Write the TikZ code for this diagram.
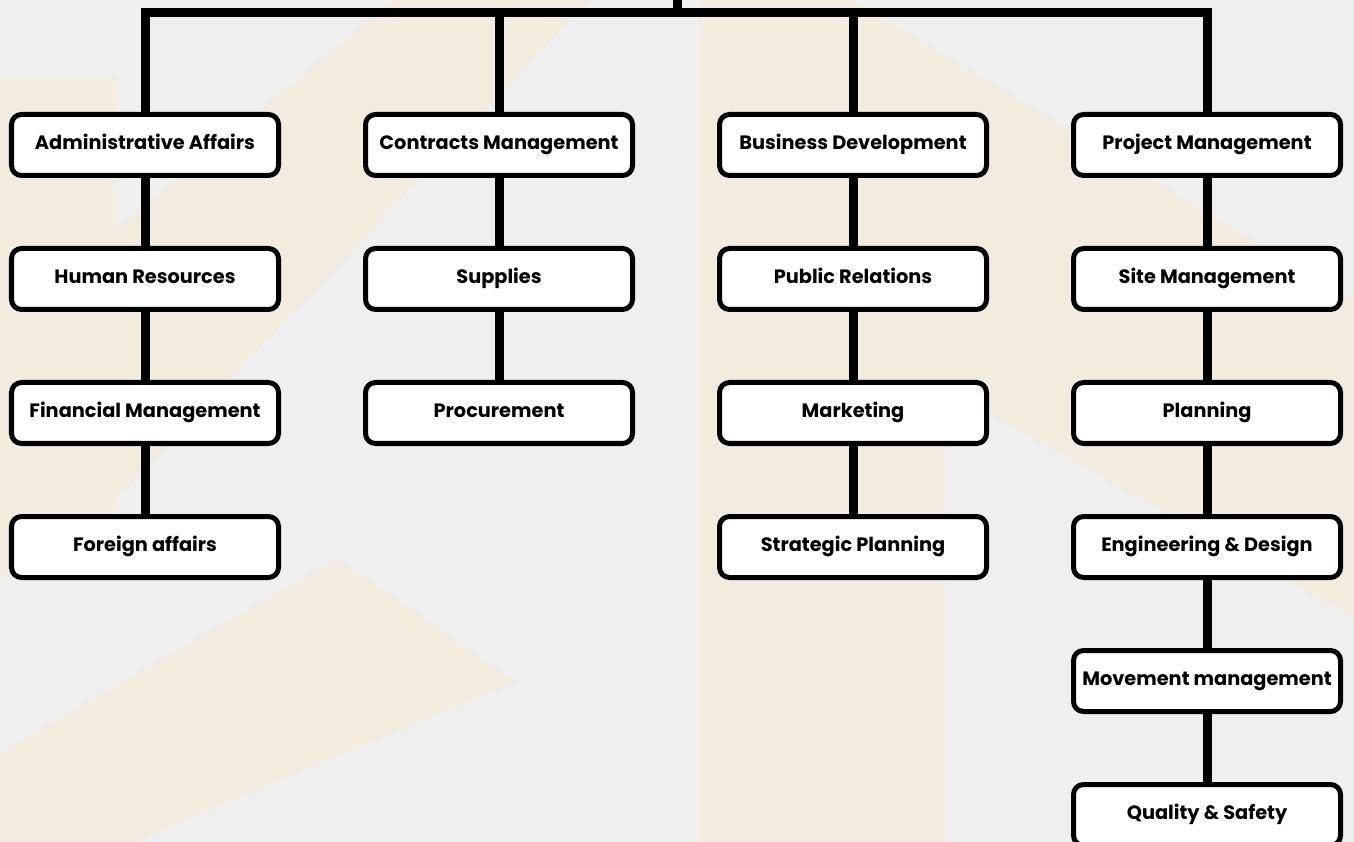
\documentclass[tikz,border=0pt]{standalone}
\usepackage{fontspec}
\setmainfont{Poppins}
\usetikzlibrary{positioning}
\definecolor{paper}{HTML}{EFEFEF}
\definecolor{sand}{HTML}{F4EBDF}

\begin{document}
\begin{tikzpicture}[node distance=1.36cm and 1.64cm, every node/.style={font=\bfseries\fontsize{11}{13}\selectfont},
	unit/.style={rectangle, rounded corners=0.2cm, minimum width=5.34cm, minimum height=1.22cm, inner xsep=2pt, text height=0.75em, text depth=0.2em, text centered, draw=black, line width=0.1cm, fill=white},
	link/.style={draw=black, line width=0.18cm}]
	\clip (0,0) rectangle (27.08,-16.84);
	% Background
	\fill[paper] (0,0) rectangle (27.08,-16.84);
	\fill[sand] (0,-1.54) -- (2.32,-1.54) -- (2.32,-11.0) -- (0,-11.6) -- cycle;
	\fill[sand] (2.32,-4.6) -- (7.86,0) -- (11.8,0) -- (2.32,-10) -- cycle;
	\fill[sand] (13.98,0) -- (17.04,0) -- (27.08,-6.0) -- (27.08,-12.36) -- (18.92,-7.8) -- (18.92,-16.84) -- (13.98,-16.84) -- cycle;
	\fill[sand] (0,-15.04) -- (6.74,-11.16) -- (10.32,-13.64) -- (2.7,-16.84) -- (0,-16.84) -- cycle;

	\node (admin) [unit] at (2.9,-2.9) {Administrative Affairs};
	\node (hr) [unit, below=of admin] {Human Resources};
	\node (finance) [unit, below=of hr] {Financial Management};
	\node (foreign) [unit, below=of finance] {Foreign affairs};

	\node (contracts) [unit, right=of admin] {Contracts Management};
	\node (supplies) [unit, below=of contracts] {Supplies};
	\node (procure) [unit, below=of supplies] {Procurement};

	\node (bizdev) [unit, right=of contracts] {Business Development};
	\node (pr) [unit, below=of bizdev] {Public Relations};
	\node (marketing) [unit, below=of pr] {Marketing};
	\node (strategy) [unit, below=of marketing] {Strategic Planning};

	\node (project) [unit, right=of bizdev] {Project Management};
	\node (site) [unit, below=of project] {Site Management};
	\node (planning) [unit, below=of site] {Planning};
	\node (engineering) [unit, below=of planning] {Engineering \& Design};
	\node (movement) [unit, below=of engineering] {Movement management};
	\node (quality) [unit, below=of movement] {Quality \& Safety};

	% Lines
	\coordinate (root) at (13.54,0.2);
	\coordinate (bar) at (13.54,-0.25);
	\draw [link] (root) -- (bar);
	\draw [link] (admin.north) |- (bar) -| (project.north);
	\draw [link] (contracts.north) -- (contracts.north |- bar);
	\draw [link] (bizdev.north) -- (bizdev.north |- bar);
	\draw [link] (admin) -- (hr);
	\draw [link] (hr) -- (finance);
	\draw [link] (finance) -- (foreign);
	\draw [link] (contracts) -- (supplies);
	\draw [link] (supplies) -- (procure);
	\draw [link] (bizdev) -- (pr);
	\draw [link] (pr) -- (marketing);
	\draw [link] (marketing) -- (strategy);
	\draw [link] (project) -- (site);
	\draw [link] (site) -- (planning);
	\draw [link] (planning) -- (engineering);
	\draw [link] (engineering) -- (movement);
	\draw [link] (movement) -- (quality);
\end{tikzpicture}
\end{document}
